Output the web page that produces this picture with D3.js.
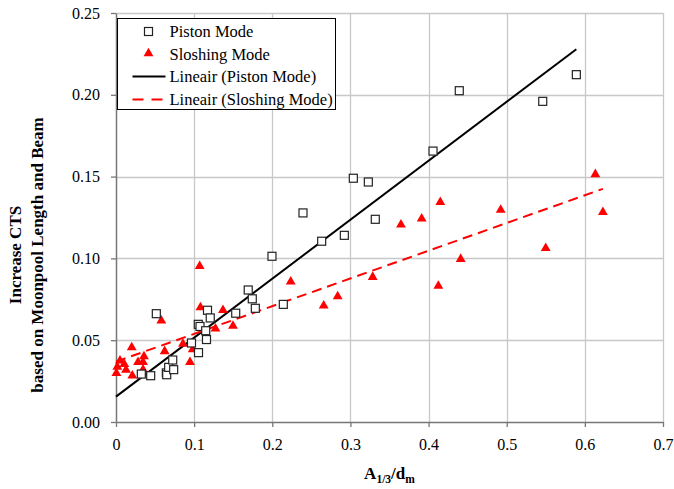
<!DOCTYPE html>
<html>
<head>
<meta charset="utf-8">
<script src="https://cdn.jsdelivr.net/npm/d3@7"></script>
<style>
  body { margin: 0; background: #fff; }
  svg text { font-family: "Liberation Serif", "DejaVu Serif", "Times New Roman", serif; }
</style>
</head>
<body>
<div id="chart"></div>
<script>
// Piston mode points [A1/3/dm, increase CTS]
const pistonX = [0.0324, 0.0444, 0.0516, 0.0644, 0.0649, 0.0674, 0.0726, 0.0738, 0.0966, 0.1053,
                 0.1075, 0.1056, 0.1148, 0.1158, 0.1171, 0.1206, 0.1532, 0.1692, 0.1744, 0.1783,
                 0.1996, 0.2141, 0.2393, 0.2632, 0.2922, 0.3037, 0.3229, 0.3318, 0.4057, 0.4393,
                 0.5461, 0.5891];
const pistonY = [0.0293, 0.0283, 0.0662, 0.0300, 0.0289, 0.0334, 0.0379, 0.0320, 0.0483, 0.0597,
                 0.0584, 0.0424, 0.0558, 0.0504, 0.0683, 0.0636, 0.0665, 0.0807, 0.0753, 0.0695,
                 0.1013, 0.0719, 0.1278, 0.1105, 0.1141, 0.1490, 0.1467, 0.1239, 0.1656, 0.2025,
                 0.1960, 0.2123];

// Sloshing mode points
const sloshX = [0.0005, 0.0017, 0.0051, 0.0106, 0.0128, 0.0201, 0.0209, 0.0282, 0.0346, 0.0346,
                0.0358, 0.0580, 0.0623, 0.0857, 0.0947, 0.0982, 0.1071, 0.1081, 0.1273, 0.1369,
                0.1497, 0.2236, 0.2658, 0.2837, 0.3285, 0.3647, 0.3912, 0.4125, 0.4150, 0.4411,
                0.4923, 0.5499, 0.6134, 0.6231];
const sloshY = [0.0293, 0.0330, 0.0369, 0.0348, 0.0312, 0.0450, 0.0277, 0.0359, 0.0314, 0.0359,
                0.0395, 0.0613, 0.0426, 0.0471, 0.0359, 0.0438, 0.0947, 0.0694, 0.0565, 0.0677,
                0.0581, 0.0851, 0.0705, 0.0762, 0.0880, 0.1200, 0.1237, 0.0825, 0.1337, 0.0990,
                0.1290, 0.1057, 0.1508, 0.1276];

// linear trendlines
const pistonFit = {intercept: 0.0155, slope: 0.3605, x0: 0, x1: 0.5891};
const sloshFit = {intercept: 0.0369, slope: 0.1695, x0: 0, x1: 0.6231};

const xTicks = [0, 0.1, 0.2, 0.3, 0.4, 0.5, 0.6, 0.7];
const yTicks = [0, 0.05, 0.10, 0.15, 0.20, 0.25];
const legendLabels = ["Piston Mode", "Sloshing Mode", "Lineair (Piston Mode)", "Lineair (Sloshing Mode)"];

const W = 674, H = 489;
const margin = {top: 13, right: 11, bottom: 67, left: 116};
const width = W - margin.left - margin.right;
const height = H - margin.top - margin.bottom;
const serif = "'Liberation Serif', 'DejaVu Serif', serif";

const svg = d3.select("#chart").append("svg")
    .attr("width", W).attr("height", H)
    .attr("font-family", serif);

const g = svg.append("g")
    .attr("transform", "translate(" + margin.left + "," + margin.top + ")");

const xScale = d3.scaleLinear().domain([0, 0.7]).range([0, width]);
const yScale = d3.scaleLinear().domain([0, 0.25]).range([height, 0]);

// grid
g.append("g").selectAll("line").data(xTicks.slice(1)).join("line")
    .attr("x1", d => Math.round(xScale(d)) + 0.5).attr("x2", d => Math.round(xScale(d)) + 0.5)
    .attr("y1", 0).attr("y2", height)
    .attr("stroke", "#c8c8c8").attr("stroke-width", 1.3);
g.append("g").selectAll("line").data(yTicks.slice(1)).join("line")
    .attr("x1", 0).attr("x2", width)
    .attr("y1", d => Math.round(yScale(d)) + 0.5).attr("y2", d => Math.round(yScale(d)) + 0.5)
    .attr("stroke", "#c8c8c8").attr("stroke-width", 1.3);

// axes
const xAxis = g.append("g")
    .attr("transform", "translate(0," + height + ")")
    .call(d3.axisBottom(xScale).tickValues(xTicks).tickSize(5).tickSizeOuter(0).tickPadding(12)
        .tickFormat(d => d === 0 ? "0" : d3.format(".1f")(d)));
const yAxis = g.append("g")
    .call(d3.axisLeft(yScale).tickValues(yTicks).tickSize(5).tickSizeOuter(0).tickPadding(11)
        .tickFormat(d3.format(".2f")));
[xAxis, yAxis].forEach(a => {
    a.attr("font-family", serif).attr("font-size", 16);
    a.select(".domain").attr("stroke", "#777").attr("stroke-width", 1.5);
    a.selectAll(".tick line").attr("stroke", "#777").attr("stroke-width", 1.3);
    a.selectAll(".tick text").attr("fill", "#000");
});

// trendlines
const line = d3.line().x(d => xScale(d[0])).y(d => yScale(d[1]));
const fitPts = f => [[f.x0, f.intercept + f.slope * f.x0], [f.x1, f.intercept + f.slope * f.x1]];

g.append("path").datum(fitPts(pistonFit))
    .attr("d", line).attr("fill", "none").attr("stroke", "#000").attr("stroke-width", 2);
g.append("path").datum(fitPts(sloshFit))
    .attr("d", line).attr("fill", "none").attr("stroke", "#ff0000").attr("stroke-width", 2)
    .attr("stroke-dasharray", "10,6");

// markers
const tri = d3.symbol().type(d3.symbolTriangle).size(42);
g.append("g").selectAll("path").data(d3.zip(sloshX, sloshY)).join("path")
    .attr("d", tri)
    .attr("transform", d => "translate(" + xScale(d[0]) + "," + (yScale(d[1]) - 1) + ")")
    .attr("fill", "#ff0000");

g.append("g").selectAll("rect").data(d3.zip(pistonX, pistonY)).join("rect")
    .attr("x", d => xScale(d[0]) - 4).attr("y", d => yScale(d[1]) - 4)
    .attr("width", 8).attr("height", 8)
    .attr("fill", "#fff").attr("stroke", "#222").attr("stroke-width", 1.2);

// legend
const lg = svg.append("g").attr("transform", "translate(117.5,18.5)");
lg.append("rect").attr("width", 218).attr("height", 91)
    .attr("fill", "#fff").attr("stroke", "#000").attr("stroke-width", 1);
const rowY = [13, 36, 58, 81];
lg.append("rect").attr("x", 27).attr("y", rowY[0] - 4).attr("width", 8).attr("height", 8)
    .attr("fill", "#fff").attr("stroke", "#222").attr("stroke-width", 1.2);
lg.append("path").attr("d", tri).attr("transform", "translate(31," + (rowY[1] - 1) + ")").attr("fill", "#ff0000");
lg.append("line").attr("x1", 15).attr("x2", 48).attr("y1", rowY[2]).attr("y2", rowY[2])
    .attr("stroke", "#000").attr("stroke-width", 2);
lg.append("line").attr("x1", 15).attr("x2", 48).attr("y1", rowY[3]).attr("y2", rowY[3])
    .attr("stroke", "#ff0000").attr("stroke-width", 2).attr("stroke-dasharray", "11,8");
lg.selectAll("text.lab").data(legendLabels).join("text")
    .attr("class", "lab")
    .attr("x", 52).attr("y", (d, i) => rowY[i] + 5.5)
    .attr("font-size", 16.5).text(d => d);

// y axis title
const yt = svg.append("g").attr("transform", "translate(0,255)");
yt.append("text").attr("transform", "translate(21,0) rotate(-90)")
    .attr("text-anchor", "middle").attr("font-size", 17).attr("font-weight", "bold")
    .text("Increase CTS");
yt.append("text").attr("transform", "translate(43,0) rotate(-90)")
    .attr("text-anchor", "middle").attr("font-size", 17).attr("font-weight", "bold")
    .text("based on Moonpool Length and Beam");

// x axis title
const xt = svg.append("text").attr("x", margin.left + width / 2).attr("y", 479)
    .attr("text-anchor", "middle").attr("font-size", 17).attr("font-weight", "bold");
xt.append("tspan").text("A");
xt.append("tspan").attr("dy", 4).attr("font-size", 11.5).text("1/3");
xt.append("tspan").attr("dy", -4).text("/d");
xt.append("tspan").attr("dy", 4).attr("font-size", 11.5).text("m");
</script>
</body>
</html>
